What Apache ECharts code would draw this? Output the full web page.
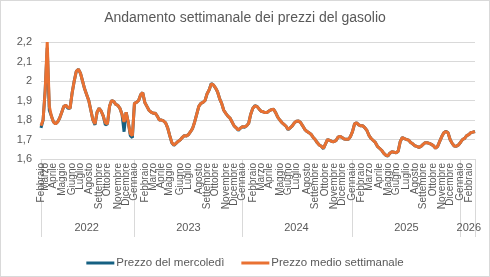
<!DOCTYPE html>
<html>
<head>
<meta charset="utf-8">
<script src="https://cdn.jsdelivr.net/npm/echarts@6/dist/echarts.min.js"></script>
<style>
    html, body {margin: 0; padding: 0; background: #fff;}
    #container {position: absolute; left: 0; top: 0; width: 490px; height: 277px;}
    #cornice {position: absolute; left: 0; top: 0; width: 488px; height: 275px; border: 1px solid #d9d9d9; pointer-events: none;}
</style>
</head>
<body>
<div id="container"></div>
<div id="cornice"></div>
<script>
// settimane a partire dal lunedi 21/02/2022, una ogni 7 giorni
var prima_settimana = '2022-02-21';
var mesi = ['Gennaio', 'Febbraio', 'Marzo', 'Aprile', 'Maggio', 'Giugno', 'Luglio', 'Agosto', 'Settembre', 'Ottobre', 'Novembre', 'Dicembre'];
var anni = ['2022', '2023', '2024', '2025', '2026'];
var y_ticks = [1.6, 1.7, 1.8, 1.9, 2.0, 2.1, 2.2];

// prezzo medio settimanale (euro/litro)
var medio_2022 = [1.77, 1.80, 1.95, 2.20, 1.87, 1.82, 1.79, 1.78, 1.79, 1.81, 1.84, 1.87, 1.875, 1.865, 1.86,
    1.94, 2.00, 2.05, 2.06, 2.04, 2.00, 1.96, 1.93, 1.90, 1.85, 1.80, 1.78, 1.84, 1.86, 1.845,
    1.82, 1.785, 1.78, 1.87, 1.90, 1.895, 1.88, 1.875, 1.86, 1.83, 1.79, 1.84, 1.79, 1.73, 1.72];
var medio_2023 = [1.885, 1.89, 1.90, 1.93, 1.94, 1.89, 1.87, 1.85, 1.84, 1.835, 1.835, 1.82, 1.80, 1.80, 1.795,
    1.785, 1.76, 1.72, 1.685, 1.672, 1.68, 1.69, 1.697, 1.71, 1.72, 1.718, 1.725, 1.74, 1.757, 1.79,
    1.83, 1.87, 1.885, 1.89, 1.90, 1.935, 1.955, 1.985, 1.98, 1.965, 1.945, 1.91, 1.885, 1.85, 1.834,
    1.82, 1.81, 1.79, 1.77, 1.76, 1.749, 1.758];
var medio_2024 = [1.765, 1.765, 1.77, 1.783, 1.83, 1.86, 1.872, 1.87, 1.857, 1.845, 1.842, 1.838, 1.84, 1.848, 1.853,
    1.855, 1.838, 1.815, 1.80, 1.787, 1.778, 1.768, 1.752, 1.76, 1.77, 1.785, 1.794, 1.795, 1.787, 1.77,
    1.752, 1.742, 1.735, 1.727, 1.712, 1.70, 1.684, 1.672, 1.665, 1.655, 1.678, 1.70, 1.695, 1.69, 1.689,
    1.694, 1.712, 1.716, 1.71, 1.703, 1.701, 1.701, 1.715];
var medio_2025 = [1.74, 1.78, 1.786, 1.775, 1.77, 1.77, 1.76, 1.745, 1.72, 1.705, 1.695, 1.685, 1.665, 1.655, 1.645,
    1.63, 1.62, 1.616, 1.63, 1.637, 1.635, 1.632, 1.64, 1.69, 1.71, 1.705, 1.70, 1.697, 1.685, 1.678,
    1.668, 1.665, 1.66, 1.665, 1.675, 1.684, 1.683, 1.68, 1.675, 1.668, 1.655, 1.665, 1.69, 1.715, 1.735,
    1.74, 1.735, 1.70, 1.68, 1.667, 1.665, 1.672];
var medio_2026 = [1.685, 1.70, 1.706, 1.72, 1.725, 1.735, 1.738, 1.74];

// prezzo del mercoledi
var mercoledi_2022 = [1.76, 1.80, 1.95, 2.17, 1.85, 1.82, 1.79, 1.78, 1.79, 1.81, 1.84, 1.87, 1.875, 1.86, 1.86,
    1.94, 2.00, 2.05, 2.06, 2.04, 2.00, 1.96, 1.93, 1.90, 1.85, 1.80, 1.775, 1.84, 1.86, 1.845,
    1.82, 1.775, 1.78, 1.87, 1.90, 1.895, 1.88, 1.875, 1.86, 1.83, 1.74, 1.84, 1.79, 1.72, 1.71];
var mercoledi_2023 = [1.885, 1.89, 1.90, 1.93, 1.94, 1.89, 1.87, 1.85, 1.84, 1.835, 1.835, 1.82, 1.80, 1.80, 1.795,
    1.785, 1.76, 1.72, 1.683, 1.67, 1.68, 1.69, 1.697, 1.71, 1.72, 1.718, 1.725, 1.74, 1.757, 1.79,
    1.83, 1.87, 1.885, 1.89, 1.90, 1.935, 1.955, 1.987, 1.98, 1.965, 1.945, 1.91, 1.885, 1.85, 1.834,
    1.82, 1.81, 1.79, 1.77, 1.76, 1.747, 1.758];
var mercoledi_2024 = [1.765, 1.763, 1.77, 1.783, 1.83, 1.86, 1.874, 1.87, 1.857, 1.845, 1.842, 1.838, 1.84, 1.848, 1.853,
    1.855, 1.838, 1.815, 1.80, 1.787, 1.778, 1.768, 1.75, 1.76, 1.77, 1.785, 1.794, 1.795, 1.787, 1.77,
    1.752, 1.742, 1.735, 1.727, 1.712, 1.70, 1.684, 1.672, 1.665, 1.653, 1.678, 1.70, 1.695, 1.69, 1.689,
    1.694, 1.712, 1.716, 1.71, 1.703, 1.701, 1.701, 1.715];
var mercoledi_2025 = [1.74, 1.78, 1.786, 1.775, 1.77, 1.77, 1.76, 1.745, 1.72, 1.705, 1.695, 1.685, 1.665, 1.655, 1.645,
    1.63, 1.62, 1.614, 1.63, 1.637, 1.635, 1.632, 1.64, 1.69, 1.71, 1.705, 1.70, 1.697, 1.685, 1.678,
    1.668, 1.665, 1.66, 1.665, 1.675, 1.684, 1.683, 1.68, 1.675, 1.668, 1.655, 1.665, 1.69, 1.715, 1.735,
    1.742, 1.735, 1.70, 1.68, 1.667, 1.665, 1.672];
var mercoledi_2026 = [1.685, 1.70, 1.706, 1.72, 1.725, 1.735, 1.738, 1.742];

var medio = medio_2022.concat(medio_2023, medio_2024, medio_2025, medio_2026);
var mercoledi = mercoledi_2022.concat(mercoledi_2023, mercoledi_2024, mercoledi_2025, mercoledi_2026);

var settimane = new Array();
var mese_idx = new Array();
var anno_idx = new Array();
var t0 = Date.parse(prima_settimana + 'T00:00:00Z');
for (var i = 0; i < medio.length; i++) {
    var d = new Date(t0 + i * 7 * 86400000);
    settimane.push(d.toISOString().slice(0, 10));
    mese_idx.push(d.getUTCMonth());
    anno_idx.push(d.getUTCFullYear());
}

// indice centrale di ogni anno, per l'etichetta
var centro_anno = {};
for (var a in anni) {
    var first = anno_idx.indexOf(+anni[a]);
    var last = anno_idx.lastIndexOf(+anni[a]);
    centro_anno[Math.round((first + last) / 2)] = anni[a];
}

function inizio_mese(idx) {
    return idx == 0 || mese_idx[idx] != mese_idx[idx - 1];
}

function inizio_anno(idx) {
    return idx == 0 || idx == settimane.length - 1 || anno_idx[idx] != anno_idx[idx - 1];
}

var font = 'Liberation Sans, Arial, sans-serif';
var grigio = '#595959';
var linee = '#d9d9d9';

// etichette dei mesi: pari su un asse, dispari sull'altro (cosi' non si nascondono a vicenda)
function asse_mesi(pari, linea) {
    return {
        type: 'category',
        data: settimane,
        boundaryGap: false,
        position: 'bottom',
        axisLine: {show: linea, lineStyle: {color: linee}},
        axisTick: {show: false},
        splitLine: {show: false},
        axisLabel: {
            interval: function (idx) { return inizio_mese(idx) && (mese_idx[idx] % 2 == 0) == pari; },
            formatter: function (v, idx) { return mesi[mese_idx[idx]]; },
            rotate: 90,
            margin: 4,
            fontFamily: font,
            fontSize: 10,
            color: grigio
        }
    };
}

var myChart = echarts.init(document.getElementById('container'));
var option = {
    animation: false,
    title: {
        text: 'Andamento settimanale dei prezzi del gasolio',
        left: 'center',
        top: 6,
        textStyle: {fontFamily: font, fontSize: 14, fontWeight: 'normal', color: grigio}
    },
    legend: {
        bottom: 3,
        left: 'center',
        icon: 'rect',
        itemWidth: 28,
        itemHeight: 3,
        itemGap: 17,
        textStyle: {fontFamily: font, fontSize: 11.5, color: grigio, padding: [0, 0, 0, -3]},
        data: ['Prezzo del mercoledì', 'Prezzo medio settimanale']
    },
    grid: {left: 41, right: 15, top: 42, bottom: 118},
    xAxis: [
        asse_mesi(true, true),
        asse_mesi(false, false),
        {
            type: 'category',
            data: settimane,
            boundaryGap: false,
            position: 'bottom',
            axisLine: {show: false},
            axisTick: {
                show: true,
                length: 78,
                interval: function (idx) { return inizio_anno(idx); },
                lineStyle: {color: linee}
            },
            splitLine: {show: false},
            axisLabel: {
                interval: function (idx) { return centro_anno[idx] != null; },
                formatter: function (v, idx) { return centro_anno[idx] || ''; },
                margin: 63,
                fontFamily: font,
                fontSize: 11,
                color: grigio
            }
        }
    ],
    yAxis: {
        type: 'value',
        min: 1.6,
        max: 2.2,
        interval: 0.1,
        axisLine: {show: false},
        axisTick: {show: false},
        splitLine: {lineStyle: {color: linee}},
        axisLabel: {
            margin: 9,
            fontFamily: font,
            fontSize: 11,
            color: grigio,
            formatter: function (v) { return String(Math.round(v * 10) / 10).replace('.', ','); }
        }
    },
    series: [
        {
            name: 'Prezzo del mercoledì',
            type: 'line',
            data: mercoledi,
            showSymbol: false,
            itemStyle: {color: '#156082'},
            lineStyle: {color: '#156082', width: 3}
        },
        {
            name: 'Prezzo medio settimanale',
            type: 'line',
            data: medio,
            showSymbol: false,
            itemStyle: {color: '#E97132'},
            lineStyle: {color: '#E97132', width: 3}
        }
    ]
};
myChart.setOption(option, true);
</script>
</body>
</html>
